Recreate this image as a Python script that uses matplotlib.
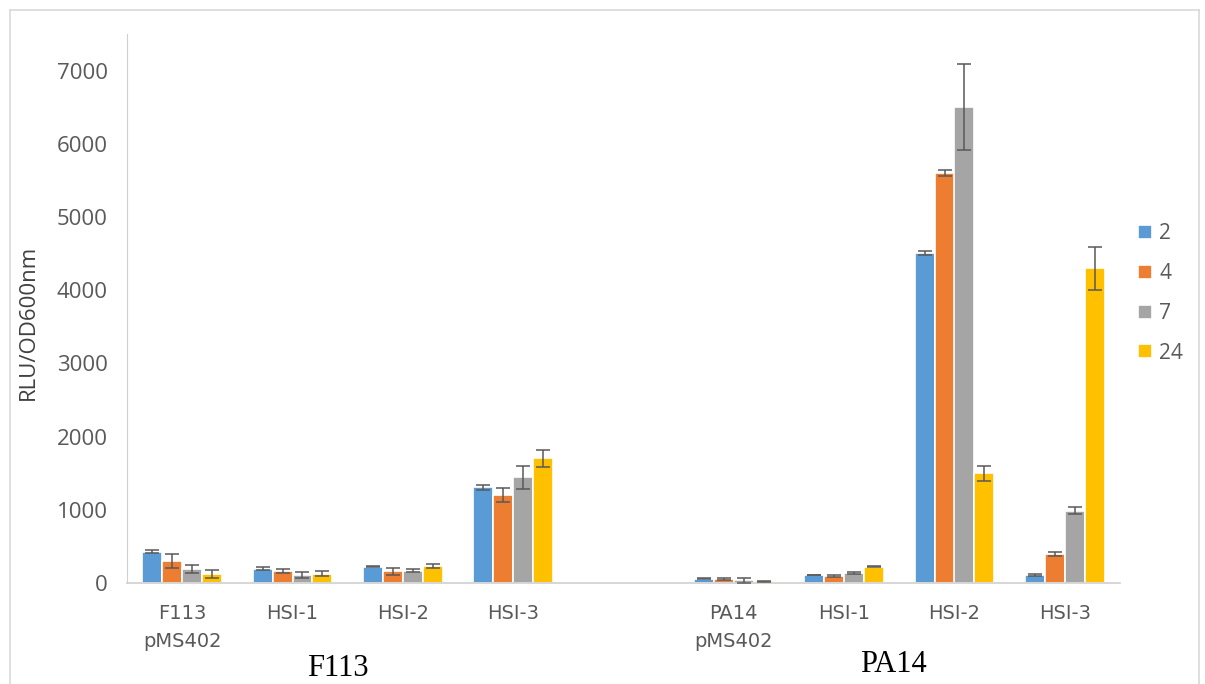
import numpy as np
import matplotlib.pyplot as plt
from matplotlib.lines import Line2D

categories = ['F113\npMS402', 'HSI-1', 'HSI-2', 'HSI-3', '',
              'PA14\npMS402', 'HSI-1', 'HSI-2', 'HSI-3']
series = ['2', '4', '7', '24']
colors = ['#5B9BD5', '#ED7D31', '#A5A5A5', '#FFC000']

# mean values per time point (gap slot = nan)
vals_2 = [428, 196, 223, 1308, np.nan, 58, 109, 4508, 109]
vals_4 = [300, 160, 160, 1199, np.nan, 55, 96, 5601, 396]
vals_7 = [191, 109, 169, 1445, np.nan, 38, 137, 6504, 989]
vals_24 = [128, 128, 232, 1705, np.nan, 23, 223, 1499, 4298]

err_2 = [20, 20, 6, 36, np.nan, 8, 6, 27, 15]
err_4 = [100, 27, 50, 98, np.nan, 8, 10, 45, 30]
err_7 = [50, 45, 18, 160, np.nan, 35, 10, 590, 50]
err_24 = [55, 35, 32, 114, np.nan, 10, 10, 105, 290]

group_names = ['F113', 'PA14']

values = [vals_2, vals_4, vals_7, vals_24]
errors = [err_2, err_4, err_7, err_24]

fig = plt.figure(figsize=(12.05, 6.84), dpi=100)
ax = fig.add_axes([127 / 1205, 1 - 583 / 684, (1120 - 127) / 1205, (583 - 34) / 684])

x = np.arange(len(categories))
width = 0.18
for i, (v, e) in enumerate(zip(values, errors)):
    pos = x + (i - 1.5) * width
    ax.bar(pos, v, width, color=colors[i], edgecolor='white', linewidth=1.2,
           label=series[i], zorder=2)
    ax.errorbar(pos, v, yerr=e, fmt='none', ecolor='#595959', elinewidth=1.1,
                capsize=5, capthick=1.1, zorder=3)

ax.set_xlim(-0.5, len(categories) - 0.5)
ax.set_ylim(0, 7500)
ax.set_yticks(range(0, 7001, 1000))
ax.set_xticks(x)
ax.set_xticklabels(categories, family=['Liberation Sans Narrow', 'DejaVu Sans'],
                   fontsize=14, color='#595959', linespacing=1.6)
for lab in ax.get_yticklabels():
    lab.set_family('Open Sans')
    lab.set_fontsize(16)
    lab.set_color('#595959')
ax.tick_params(length=0)
ax.tick_params(axis='x', pad=15)
ax.tick_params(axis='y', pad=14)

for s in ['top', 'right']:
    ax.spines[s].set_visible(False)
ax.spines['left'].set_color('#D0D0D0')
ax.spines['bottom'].set_color('#D0D0D0')
ax.spines['bottom'].set_linewidth(1.2)

fig.text(28 / 1205, 1 - 322 / 684, 'RLU/OD600nm', rotation=90, ha='center', va='center',
         family='Open Sans', fontsize=16, color='#404040')

# group labels
fig.text(338 / 1205, 1 - 668 / 684, group_names[0], ha='center', va='center',
         family='Liberation Serif', fontsize=22, color='black')
fig.text(893 / 1205, 1 - 665 / 684, group_names[1], ha='center', va='center',
         family='Liberation Serif', fontsize=22, color='black')

leg = fig.legend(loc='upper left', bbox_to_anchor=(1128 / 1205, 1 - 213 / 684),
                 frameon=False, handlelength=0.65, handleheight=0.65,
                 labelspacing=0.9, handletextpad=0.35, borderpad=0,
                 prop={'family': 'Open Sans', 'size': 15})
for t in leg.get_texts():
    t.set_color('#595959')

# outer frame
frame_kw = dict(color='#D9D9D9', linewidth=1.2, transform=fig.transFigure)
fig.add_artist(Line2D([10 / 1205, 10 / 1205], [0, 1 - 10 / 684], **frame_kw))
fig.add_artist(Line2D([10 / 1205, 1199 / 1205], [1 - 10 / 684, 1 - 10 / 684], **frame_kw))
fig.add_artist(Line2D([1199 / 1205, 1199 / 1205], [0, 1 - 10 / 684], **frame_kw))

fig.savefig('out.png', dpi=100)
